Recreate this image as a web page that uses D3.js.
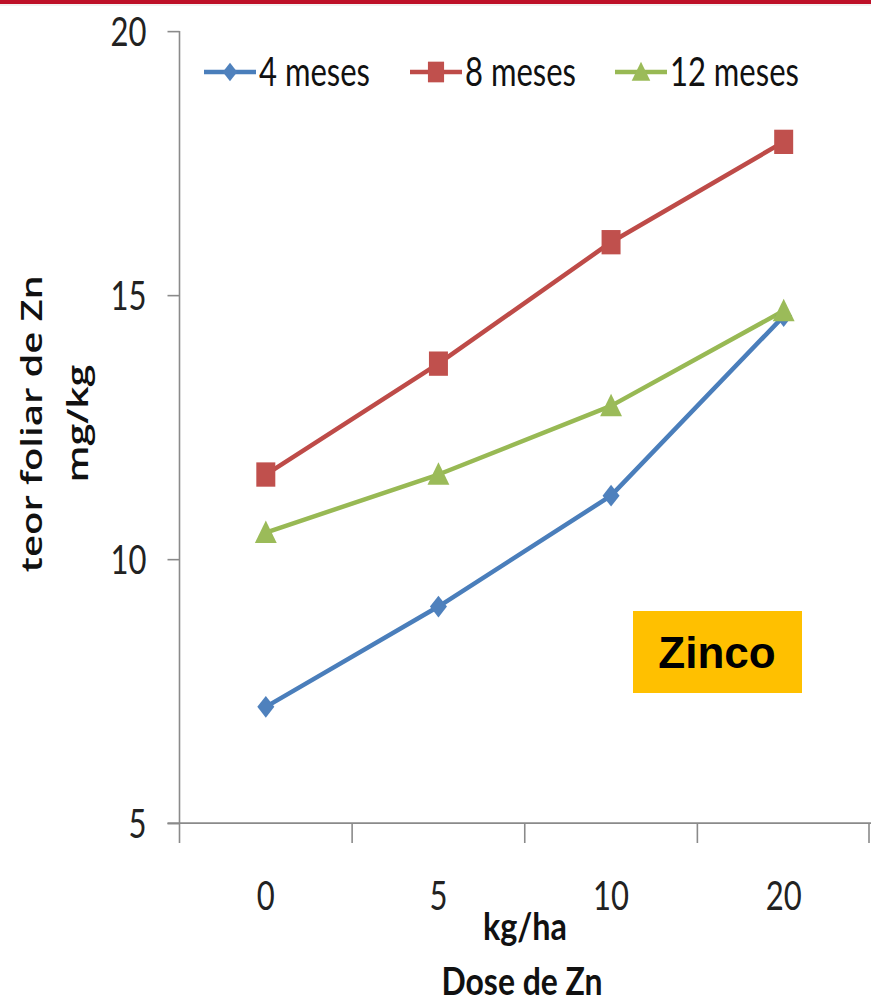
<!DOCTYPE html>
<html>
<head>
<meta charset="utf-8">
<script src="https://cdn.jsdelivr.net/npm/d3@7"></script>
<style>
  html, body { margin: 0; padding: 0; background: #fff; }
  svg { display: block; }
</style>
</head>
<body>
<script>
// ---- data ----
const categories = ["0", "5", "10", "20"];
const series4 = [7.2, 9.1, 11.2, 14.6];
const series8 = [11.6, 13.7, 16.0, 17.9];
const series12 = [10.5, 11.6, 12.9, 14.7];
const seriesNames = ["4 meses", "8 meses", "12 meses"];
const yTicks = [5, 10, 15, 20];
const yTitle = ["teor foliar de Zn", "mg/kg"];
const xTitle = ["kg/ha", "Dose de Zn"];
const badge = "Zinco";

// ---- layout ----
const W = 871, H = 1002, K = 1.28; // vertical stretch of the chart
const svg = d3.select("body").append("svg").attr("width", W).attr("height", H);

// top red band
svg.append("rect").attr("x", 0).attr("y", 0).attr("width", W).attr("height", 4).attr("fill", "#be1128");
svg.append("rect").attr("x", 0).attr("y", 4).attr("width", W).attr("height", 2).attr("fill", "#f2f2f2");

const g = svg.append("g").attr("transform", `scale(1,${K})`);

const x = d3.scaleBand().domain(categories).range([179.5, 870]).padding(0);
const y = d3.scaleLinear().domain([5, 20]).range([643, 24.2]);
const cx = c => x(c) + x.bandwidth() / 2;

const font = "Lato, 'Open Sans', sans-serif";
const axisColor = "#8a8a8a";

// y axis
const yAxis = g.append("g").attr("transform", `translate(${x.range()[0]},0)`)
  .call(d3.axisLeft(y).tickValues(yTicks).tickSize(12).tickPadding(21).tickSizeOuter(0));
yAxis.select(".domain").remove();
yAxis.selectAll("line").attr("stroke", axisColor).attr("stroke-width", 1.6).attr("vector-effect", "non-scaling-stroke");
yAxis.selectAll("text").attr("font-family", font).attr("font-size", 31).attr("fill", "#222").attr("dy", "0.36em");

// axis lines
g.append("line").attr("x1", x.range()[0]).attr("x2", x.range()[0]).attr("y1", y(20)).attr("y2", y(5) + 15.6)
  .attr("stroke", axisColor).attr("stroke-width", 1.6).attr("vector-effect", "non-scaling-stroke");
g.append("line").attr("x1", x.range()[0] - 12).attr("x2", W).attr("y1", y(5)).attr("y2", y(5))
  .attr("stroke", axisColor).attr("stroke-width", 1.8).attr("vector-effect", "non-scaling-stroke");

// x boundary ticks
const bounds = categories.map(c => x(c)).concat([x(categories[categories.length - 1]) + x.bandwidth()]);
g.selectAll(".xb").data(bounds.slice(1)).enter().append("line")
  .attr("x1", d => Math.min(d, W - 2)).attr("x2", d => Math.min(d, W - 2))
  .attr("y1", y(5)).attr("y2", y(5) + 15.6)
  .attr("stroke", axisColor).attr("stroke-width", 1.6).attr("vector-effect", "non-scaling-stroke");

// x labels
const xAxis = g.append("g").attr("transform", `translate(0,${y(5)})`)
  .call(d3.axisBottom(x).tickSize(0).tickPadding(46));
xAxis.select(".domain").remove();
xAxis.selectAll("text").attr("font-family", font).attr("font-size", 31).attr("fill", "#222");

// x titles
g.append("text").attr("x", 525).attr("y", 734.5).attr("text-anchor", "middle")
  .attr("font-family", font).attr("font-weight", "bold").attr("font-size", 30)
  .attr("textLength", 84).attr("lengthAdjust", "spacingAndGlyphs").attr("fill", "#111").text(xTitle[0]);
g.append("text").attr("x", 522).attr("y", 777).attr("text-anchor", "middle")
  .attr("font-family", font).attr("font-weight", "bold").attr("font-size", 30)
  .attr("textLength", 161).attr("lengthAdjust", "spacingAndGlyphs").attr("fill", "#111").text(xTitle[1]);

// y titles
const yFont = "'Open Sans', Lato, sans-serif";
const yt = g.append("g").attr("transform", `translate(0,${331}) rotate(-90)`);
yt.append("text").attr("x", 0).attr("y", 42).attr("text-anchor", "middle")
  .attr("font-family", yFont).attr("font-weight", 600).attr("font-size", 28)
  .attr("textLength", 232).attr("lengthAdjust", "spacingAndGlyphs").attr("fill", "#111").text(yTitle[0]);
yt.append("text").attr("x", 0).attr("y", 88).attr("text-anchor", "middle")
  .attr("font-family", yFont).attr("font-weight", 600).attr("font-size", 28)
  .attr("textLength", 92).attr("lengthAdjust", "spacingAndGlyphs").attr("fill", "#111").text(yTitle[1]);

// marker shapes
const shapes = {
  diamond: s => `M0,${-s}L${s},0L0,${s}L${-s},0Z`,
  square: s => `M${-s},${-s}H${s}V${s}H${-s}Z`,
  triangle: s => `M0,${-s}L${s * 1.15},${s * 0.85}L${-s * 1.15},${s * 0.85}Z`
};

const series = [
  { name: seriesNames[0], values: series4, line: "#4a7ebb", fill: "#4f81bd", shape: "diamond", size: 8.5 },
  { name: seriesNames[1], values: series8, line: "#be4b48", fill: "#c0504d", shape: "square", size: 9.5 },
  { name: seriesNames[2], values: series12, line: "#98b954", fill: "#9bbb59", shape: "triangle", size: 9.5 }
];

const lineGen = d3.line().x((d, i) => cx(categories[i])).y(d => y(d));

series.forEach(s => {
  g.append("path").datum(s.values).attr("d", lineGen)
    .attr("fill", "none").attr("stroke", s.line).attr("stroke-width", 4.5)
    .attr("vector-effect", "non-scaling-stroke").attr("stroke-linejoin", "round");
});
series.forEach(s => {
  g.selectAll(null).data(s.values).enter().append("path")
    .attr("transform", (d, i) => `translate(${cx(categories[i])},${y(d)})`)
    .attr("d", shapes[s.shape](s.size)).attr("fill", s.fill);
});

// legend
const legY = 72 / K;
const legX = [204, 410, 615];
series.forEach((s, i) => {
  const lg = g.append("g").attr("transform", `translate(${legX[i]},${legY})`);
  lg.append("line").attr("x1", 0).attr("x2", 52).attr("y1", 0).attr("y2", 0)
    .attr("stroke", s.line).attr("stroke-width", 4.5).attr("vector-effect", "non-scaling-stroke");
  lg.append("path").attr("transform", "translate(26,0)").attr("d", shapes[s.shape](s.size * 0.85)).attr("fill", s.fill);
  lg.append("text").attr("x", 55).attr("y", 0).attr("dy", "0.36em")
    .attr("font-family", font).attr("font-size", 31).attr("fill", "#111").text(s.name);
});

// badge (not stretched)
svg.append("rect").attr("x", 633).attr("y", 611).attr("width", 169).attr("height", 82).attr("fill", "#ffc000");
svg.append("text").attr("x", 717).attr("y", 652).attr("dy", "0.36em").attr("text-anchor", "middle")
  .attr("font-family", "'Liberation Sans', Arial, sans-serif").attr("font-weight", "bold")
  .attr("font-size", 44).attr("fill", "#000").text(badge);
</script>
</body>
</html>
